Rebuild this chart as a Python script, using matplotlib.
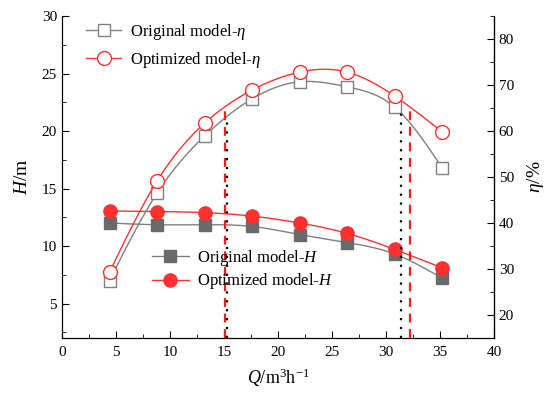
import numpy as np
import matplotlib
matplotlib.use("Agg")
import matplotlib.pyplot as plt
from matplotlib.lines import Line2D

plt.rcParams['font.family'] = 'Liberation Serif'
plt.rcParams['mathtext.fontset'] = 'custom'
plt.rcParams['mathtext.rm'] = 'Liberation Serif'
plt.rcParams['mathtext.it'] = 'Liberation Serif:italic'

# flow rate points (m3/h)
Q = [4.4, 8.8, 13.2, 17.6, 22.0, 26.4, 30.8, 35.2]

# head (m)
H_orig = [12.0, 11.85, 11.85, 11.7, 11.0, 10.3, 9.3, 7.2]
H_opt = [13.05, 13.0, 12.9, 12.6, 12.0, 11.1, 9.7, 8.1]

# efficiency (%)
eta_orig = [27.5, 46.5, 58.9, 67.0, 70.7, 69.6, 65.2, 52.0]
eta_opt = [29.3, 49.1, 61.7, 68.9, 72.8, 72.8, 67.6, 59.8]

# high efficiency range limits
range_orig = [15.25, 31.4]
range_opt = [15.1, 32.2]


def spline(x, y, xs):
    # natural cubic spline through the points
    x = np.asarray(x, float)
    y = np.asarray(y, float)
    n = len(x)
    h = np.diff(x)
    A = np.zeros((n, n))
    b = np.zeros(n)
    A[0, 0] = A[-1, -1] = 1
    for i in range(1, n - 1):
        A[i, i - 1] = h[i - 1]
        A[i, i] = 2 * (h[i - 1] + h[i])
        A[i, i + 1] = h[i]
        b[i] = 6 * ((y[i + 1] - y[i]) / h[i] - (y[i] - y[i - 1]) / h[i - 1])
    M = np.linalg.solve(A, b)
    xs = np.atleast_1d(np.asarray(xs, float))
    idx = np.clip(np.searchsorted(x, xs) - 1, 0, n - 2)
    x0, x1 = x[idx], x[idx + 1]
    hh = x1 - x0
    t0, t1 = x1 - xs, xs - x0
    return (M[idx] * t0 ** 3 / (6 * hh) + M[idx + 1] * t1 ** 3 / (6 * hh)
            + (y[idx] / hh - M[idx] * hh / 6) * t0
            + (y[idx + 1] / hh - M[idx + 1] * hh / 6) * t1)


gray_line = '#808080'
gray_fill = '#6a6a6a'
red = '#ff3030'

fig = plt.figure(figsize=(5.5, 3.97), dpi=100)
ax = fig.add_axes([0.1127, 0.1486, 0.7855, 0.8111])
ax2 = ax.twinx()

xs = np.linspace(Q[0], Q[-1], 300)

# head curves
ax.plot(xs, spline(Q, H_orig, xs), color=gray_line, lw=1)
ax.plot(Q, H_orig, 's', color=gray_fill, ms=8, mec=gray_fill)
ax.plot(xs, spline(Q, H_opt, xs), color=red, lw=1)
ax.plot(Q, H_opt, 'o', color=red, ms=9.5, mec=red)

# efficiency curves
ax2.plot(xs, spline(Q, eta_orig, xs), color=gray_line, lw=1)
ax2.plot(Q, eta_orig, 's', mfc='white', mec=gray_line, ms=8.5, mew=1)
ax2.plot(xs, spline(Q, eta_opt, xs), color=red, lw=1)
ax2.plot(Q, eta_opt, 'o', mfc='white', mec=red, ms=10, mew=1)

# range markers
for x in range_opt:
    ax2.vlines(x, 15, spline(Q, eta_opt, x)[0], color='#ff1a1a',
               linestyles=(0, (4, 3)), lw=1.6)
for x in range_orig:
    ax2.vlines(x, 15, spline(Q, eta_orig, x)[0], color='black',
               linestyles=(0, (1, 3)), lw=1.6)

ax.set_xlim(0, 40)
ax.set_ylim(2, 30)
ax2.set_ylim(15, 85)
ax.set_xticks(np.arange(0, 41, 5))
ax.set_xticks(np.arange(0, 41, 2.5), minor=True)
ax.set_yticks(np.arange(5, 31, 5))
ax.set_yticks(np.arange(2.5, 30.1, 2.5), minor=True)
ax2.set_yticks(np.arange(20, 81, 10))
ax2.set_yticks(np.arange(15, 86, 5), minor=True)

for a in (ax, ax2):
    a.spines['top'].set_visible(False)
    a.tick_params(which='both', direction='in', labelsize=11)
    a.tick_params(which='major', length=5)
    a.tick_params(which='minor', length=3)
ax.tick_params(axis='x', pad=6)
ax2.spines['right'].set_linewidth(0.9)

ax.set_xlabel(r'$\mathit{Q}$/m$^{3}$h$^{-1}$', fontsize=13, labelpad=5)
ax.set_ylabel(r'$\mathit{H}$/m', fontsize=14, labelpad=8)
ax2.set_ylabel(r'$\eta$/%', fontsize=14, labelpad=8)

h1 = [Line2D([], [], color=gray_line, lw=1, marker='s', mfc='white', mec=gray_line, ms=8.5),
      Line2D([], [], color=red, lw=1, marker='o', mfc='white', mec=red, ms=10)]
leg1 = ax2.legend(h1, [r'Original model-$\eta$', r'Optimized model-$\eta$'],
                  loc='upper left', bbox_to_anchor=(86 / 550, 1 - 22 / 397),
                  bbox_transform=fig.transFigure, frameon=False, fontsize=12,
                  handlelength=2.1, handletextpad=0.55, labelspacing=0.45,
                  borderpad=0, borderaxespad=0)
ax2.add_artist(leg1)

h2 = [Line2D([], [], color=gray_line, lw=1, marker='s', mfc=gray_fill, mec=gray_fill, ms=8),
      Line2D([], [], color=red, lw=1, marker='o', mfc=red, mec=red, ms=9.5)]
ax2.legend(h2, [r'Original model-$\mathit{H}$', r'Optimized model-$\mathit{H}$'],
           loc='upper left', bbox_to_anchor=(152 / 550, 1 - 248 / 397),
           bbox_transform=fig.transFigure, frameon=False, fontsize=12,
           handlelength=2.2, handletextpad=0.5, labelspacing=0.2,
           borderpad=0, borderaxespad=0)

fig.savefig('out.png', dpi=100)
